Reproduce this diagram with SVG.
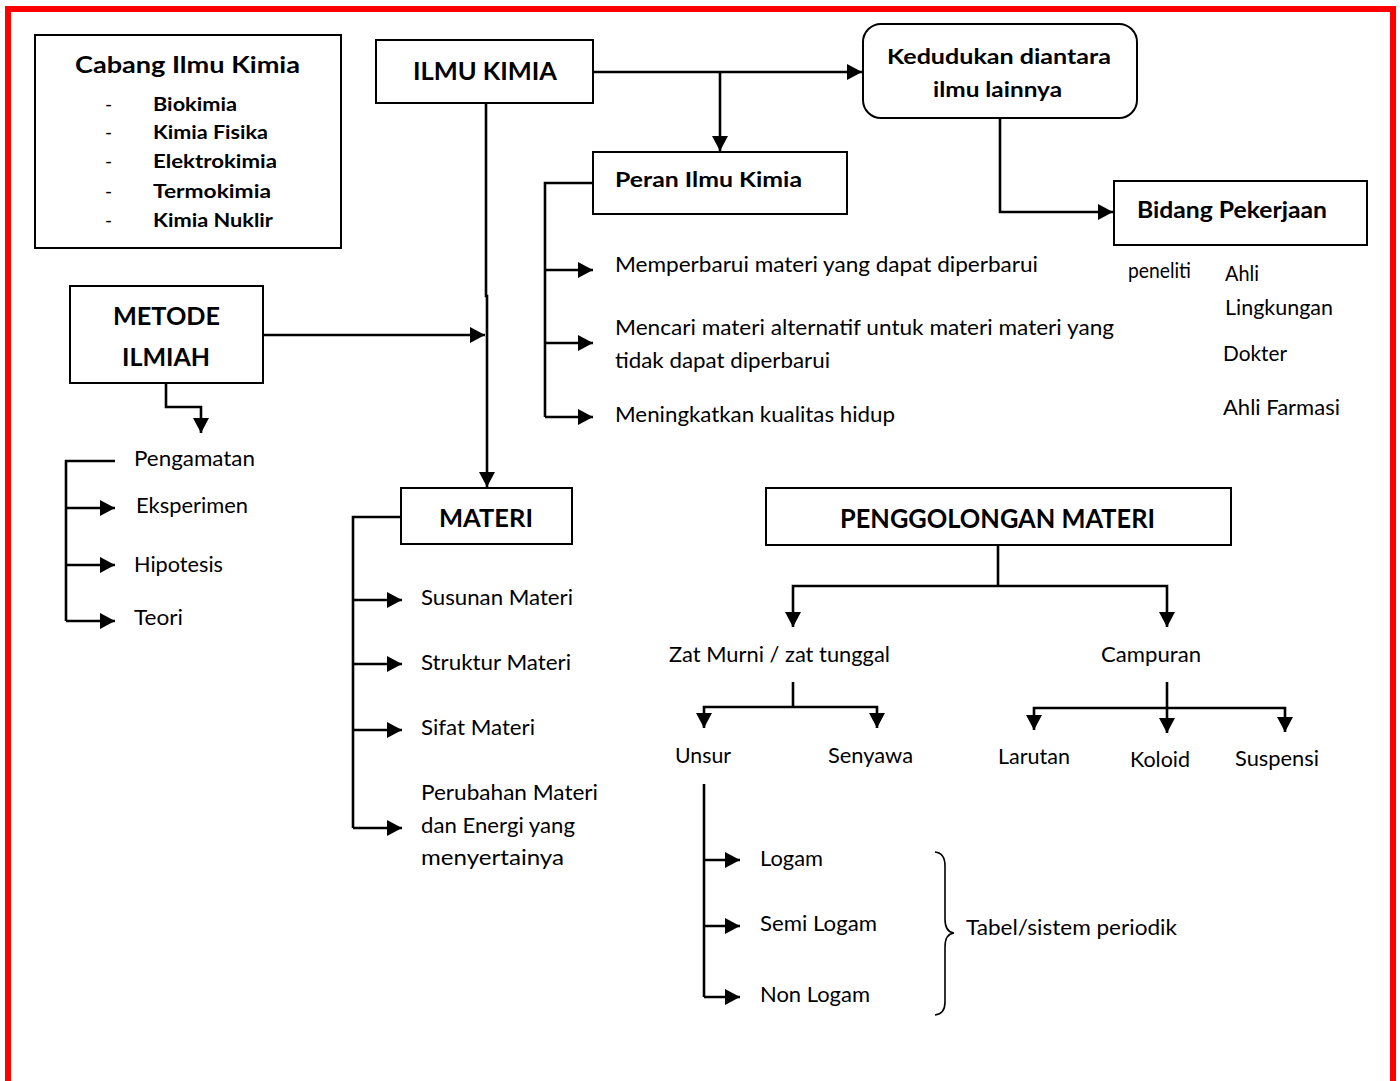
<svg xmlns="http://www.w3.org/2000/svg" width="1400" height="1081" viewBox="0 0 1400 1081">
<style>
text{font-family:Lato,"Liberation Sans",sans-serif;fill:#000}
.b{font-weight:bold}
.t{font-size:21px}
.box{fill:#fff;stroke:#000;stroke-width:2}
.c{fill:none;stroke:#000;stroke-width:2.6}
.ca{fill:none;stroke:#000;stroke-width:2.6;marker-end:url(#ah)}
</style>
<defs>
<marker id="ah" markerUnits="userSpaceOnUse" markerWidth="16" markerHeight="16" refX="15" refY="8" orient="auto">
<path d="M0,0 L15,8 L0,16 z" fill="#000"/>
</marker>
</defs>
<rect x="0" y="0" width="1400" height="1081" fill="#fff"/>
<rect x="8" y="9" width="1385" height="1090" fill="none" stroke="#ff0000" stroke-width="6"/>

<g id="cabang">
<rect class="box" x="35" y="35" width="306" height="213"/>
<text class="b" x="75" y="73" font-size="23" textLength="225" lengthAdjust="spacingAndGlyphs">Cabang Ilmu Kimia</text>
<g font-size="19">
<text x="105" y="111">-</text><text class="b" x="153" y="111" textLength="84" lengthAdjust="spacingAndGlyphs">Biokimia</text>
<text x="105" y="139">-</text><text class="b" x="153" y="139" textLength="115" lengthAdjust="spacingAndGlyphs">Kimia Fisika</text>
<text x="105" y="168">-</text><text class="b" x="153" y="168" textLength="124" lengthAdjust="spacingAndGlyphs">Elektrokimia</text>
<text x="105" y="198">-</text><text class="b" x="153" y="198" textLength="118" lengthAdjust="spacingAndGlyphs">Termokimia</text>
<text x="105" y="227">-</text><text class="b" x="153" y="227" textLength="120" lengthAdjust="spacingAndGlyphs">Kimia Nuklir</text>
</g>
</g>

<g id="ilmu-kimia">
<rect class="box" x="376" y="40" width="217" height="63"/>
<text class="b" x="413" y="80" font-size="24" textLength="144" lengthAdjust="spacingAndGlyphs">ILMU KIMIA</text>
</g>

<g id="kedudukan">
<rect class="box" x="863" y="24" width="274" height="94" rx="18" ry="18"/>
<text class="b" x="887" y="64" font-size="21" textLength="224" lengthAdjust="spacingAndGlyphs">Kedudukan diantara</text>
<text class="b" x="933" y="97" font-size="21" textLength="129" lengthAdjust="spacingAndGlyphs">ilmu lainnya</text>
</g>

<g id="bidang">
<rect class="box" x="1114" y="181" width="253" height="64"/>
<text class="b" x="1137" y="218" font-size="22" textLength="190" lengthAdjust="spacingAndGlyphs">Bidang Pekerjaan</text>
</g>

<g id="bidang-items" class="t">
<text x="1128" y="278" textLength="63" lengthAdjust="spacingAndGlyphs">peneliti</text>
<text x="1225" y="281" textLength="34" lengthAdjust="spacingAndGlyphs">Ahli</text>
<text x="1225" y="315" textLength="108" lengthAdjust="spacingAndGlyphs">Lingkungan</text>
<text x="1223" y="361" textLength="64" lengthAdjust="spacingAndGlyphs">Dokter</text>
<text x="1223" y="415" textLength="117" lengthAdjust="spacingAndGlyphs">Ahli Farmasi</text>
</g>

<g id="peran">
<rect class="box" x="593" y="152" width="254" height="62"/>
<text class="b" x="615" y="187" font-size="20" textLength="187" lengthAdjust="spacingAndGlyphs">Peran Ilmu Kimia</text>
</g>

<g id="peran-items" class="t">
<text x="615" y="272" textLength="423" lengthAdjust="spacingAndGlyphs">Memperbarui materi yang dapat diperbarui</text>
<text x="615" y="335" textLength="499" lengthAdjust="spacingAndGlyphs">Mencari materi alternatif untuk materi materi yang</text>
<text x="615" y="368" textLength="215" lengthAdjust="spacingAndGlyphs">tidak dapat diperbarui</text>
<text x="615" y="422" textLength="280" lengthAdjust="spacingAndGlyphs">Meningkatkan kualitas hidup</text>
</g>

<g id="metode">
<rect class="box" x="70" y="286" width="193" height="97"/>
<text class="b" x="113" y="325" font-size="25" textLength="107" lengthAdjust="spacingAndGlyphs">METODE</text>
<text class="b" x="122" y="366" font-size="25" textLength="88" lengthAdjust="spacingAndGlyphs">ILMIAH</text>
</g>

<g id="metode-items" class="t">
<text x="134" y="466" textLength="121" lengthAdjust="spacingAndGlyphs">Pengamatan</text>
<text x="136" y="513" textLength="112" lengthAdjust="spacingAndGlyphs">Eksperimen</text>
<text x="134" y="572" textLength="89" lengthAdjust="spacingAndGlyphs">Hipotesis</text>
<text x="134" y="625" textLength="49" lengthAdjust="spacingAndGlyphs">Teori</text>
</g>

<g id="materi">
<rect class="box" x="401" y="488" width="171" height="56"/>
<text class="b" x="439" y="527" font-size="25" textLength="94" lengthAdjust="spacingAndGlyphs">MATERI</text>
</g>

<g id="materi-items" class="t">
<text x="421" y="605" textLength="152" lengthAdjust="spacingAndGlyphs">Susunan Materi</text>
<text x="421" y="670" textLength="150" lengthAdjust="spacingAndGlyphs">Struktur Materi</text>
<text x="421" y="735" textLength="114" lengthAdjust="spacingAndGlyphs">Sifat Materi</text>
<text x="421" y="800" textLength="177" lengthAdjust="spacingAndGlyphs">Perubahan Materi</text>
<text x="421" y="833" textLength="154" lengthAdjust="spacingAndGlyphs">dan Energi yang</text>
<text x="421" y="865" textLength="143" lengthAdjust="spacingAndGlyphs">menyertainya</text>
</g>

<g id="penggolongan">
<rect class="box" x="766" y="488" width="465" height="57"/>
<text class="b" x="840" y="528" font-size="26" textLength="315" lengthAdjust="spacingAndGlyphs">PENGGOLONGAN MATERI</text>
</g>

<g id="penggolongan-items" class="t">
<text x="669" y="662" textLength="221" lengthAdjust="spacingAndGlyphs">Zat Murni / zat tunggal</text>
<text x="1101" y="662" textLength="100" lengthAdjust="spacingAndGlyphs">Campuran</text>
<text x="675" y="763" textLength="56" lengthAdjust="spacingAndGlyphs">Unsur</text>
<text x="828" y="763" textLength="85" lengthAdjust="spacingAndGlyphs">Senyawa</text>
<text x="998" y="764" textLength="72" lengthAdjust="spacingAndGlyphs">Larutan</text>
<text x="1130" y="767" textLength="60" lengthAdjust="spacingAndGlyphs">Koloid</text>
<text x="1235" y="766" textLength="84" lengthAdjust="spacingAndGlyphs">Suspensi</text>
<text x="760" y="866" textLength="63" lengthAdjust="spacingAndGlyphs">Logam</text>
<text x="760" y="931" textLength="117" lengthAdjust="spacingAndGlyphs">Semi Logam</text>
<text x="760" y="1002" textLength="110" lengthAdjust="spacingAndGlyphs">Non Logam</text>
<text x="966" y="935" textLength="211" lengthAdjust="spacingAndGlyphs">Tabel/sistem periodik</text>
</g>

<g id="connectors">
<path class="ca" d="M593,72 H862"/>
<path class="ca" d="M720,72 V151"/>
<path class="ca" d="M1000,118 V212 H1113"/>
<path class="ca" d="M486,103 V296 H487 V487"/>
<path class="ca" d="M263,335 H485"/>
<path class="ca" d="M166,383 V407 H201 V433"/>
<path class="c" d="M115,461 H66 V621"/>
<path class="ca" d="M66,621 H115"/>
<path class="ca" d="M66,508 H115"/>
<path class="ca" d="M66,565 H115"/>
<path class="c" d="M593,183 H545 V417"/>
<path class="ca" d="M545,417 H593"/>
<path class="ca" d="M545,270 H593"/>
<path class="ca" d="M545,343 H593"/>
<path class="c" d="M401,517 H353 V828"/>
<path class="ca" d="M353,828 H402"/>
<path class="ca" d="M353,600 H402"/>
<path class="ca" d="M353,664 H402"/>
<path class="ca" d="M353,730 H402"/>
<path class="c" d="M998,545 V586"/>
<path class="ca" d="M998,586 H793 V627"/>
<path class="ca" d="M998,586 H1167 V627"/>
<path class="c" d="M793,682 V707"/>
<path class="ca" d="M793,707 H704 V728"/>
<path class="ca" d="M793,707 H877 V728"/>
<path class="ca" d="M1167,682 V733"/>
<path class="ca" d="M1167,708 H1034 V730"/>
<path class="ca" d="M1167,708 H1285 V732"/>
<path class="c" d="M704,784 V997"/>
<path class="ca" d="M704,997 H740"/>
<path class="ca" d="M704,860 H740"/>
<path class="ca" d="M704,926 H740"/>
<path fill="none" stroke="#000" stroke-width="1.6" d="M935,852 Q945,853 945,866 V919 Q945,932 954,933 Q945,934 945,947 V1002 Q945,1014 935,1015"/>
</g>
</svg>
